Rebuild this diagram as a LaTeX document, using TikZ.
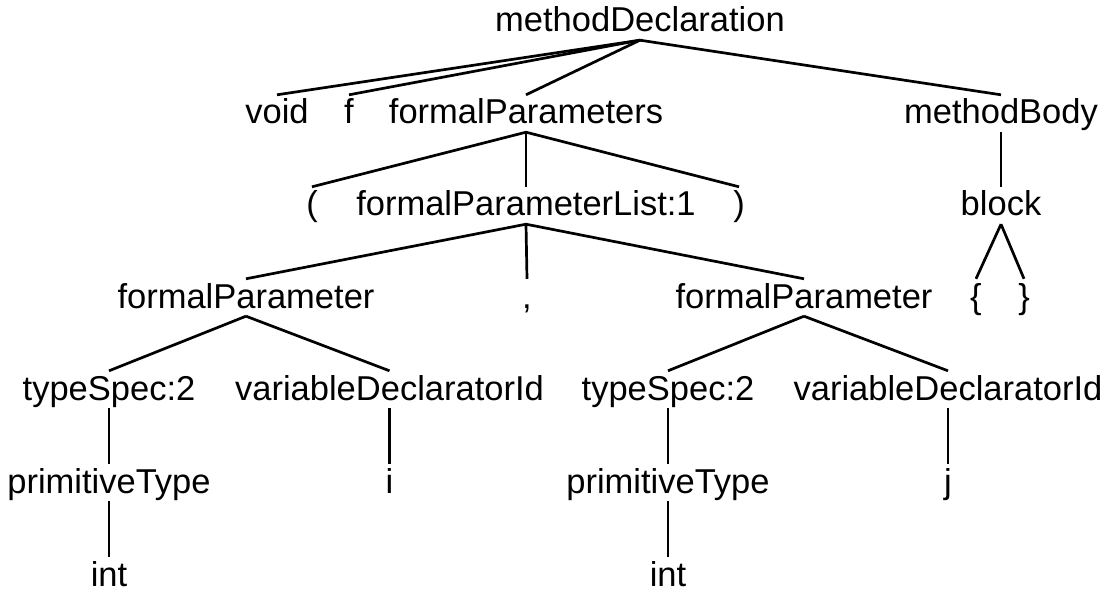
\documentclass[tikz,border=0pt]{standalone}
\usepackage{fontspec}
\setmainfont{Liberation Sans}
\begin{document}
\begin{tikzpicture}[x=1pt,y=-1pt,
  tn/.style={anchor=base,inner sep=0pt,text height=29pt,text depth=8pt,
    font=\fontsize{34.5}{40}\selectfont},
  edge/.style={line width=2.7pt,line cap=butt}]
\useasboundingbox (0,0) rectangle (1114,604);
% row 1
\node[tn] (md) at (640,32) {methodDeclaration};
% row 2
\node[tn] (void) at (277,124) {void};
\node[tn] (f) at (349,124) {f};
\node[tn] (fps) at (526,124) {formalParameters};
\node[tn] (mb) at (1001,124) {methodBody};
% row 3
\node[tn] (lp) at (312,216) {(};
\node[tn] (fpl) at (526,216) {formalParameterList:1};
\node[tn] (rp) at (739,216) {)};
\node[tn] (blk) at (1001,216) {block};
% row 4
\node[tn] (fp1) at (246,308) {formalParameter};
\node[tn] (comma) at (527,308) {,};
\node[tn] (fp2) at (804,308) {formalParameter};
\node[tn] (lb) at (976,308) {\{};
\node[tn] (rb) at (1024,308) {\}};
% row 5
\node[tn] (ts1) at (109,400) {typeSpec:2};
\node[tn] (vd1) at (389.5,400) {variableDeclaratorId};
\node[tn] (ts2) at (668,400) {typeSpec:2};
\node[tn] (vd2) at (948,400) {variableDeclaratorId};
% row 6
\node[tn] (pt1) at (109,493) {primitiveType};
\node[tn] (i) at (389.5,493) {i};
\node[tn] (pt2) at (668,493) {primitiveType};
\node[tn] (j) at (948,493) {j};
% row 7
\node[tn] (int1) at (109,586) {int};
\node[tn] (int2) at (668,586) {int};
% edges
\foreach \p/\c in {md/void,md/f,md/fps,md/mb,
  fps/lp,fps/fpl,fps/rp,mb/blk,
  fpl/fp1,fpl/comma,fpl/fp2,blk/lb,blk/rb,
  fp1/ts1,fp1/vd1,fp2/ts2,fp2/vd2,
  ts1/pt1,vd1/i,ts2/pt2,vd2/j,
  pt1/int1,pt2/int2}
  \draw[edge] (\p.south) -- (\c.north);
\end{tikzpicture}
\end{document}
